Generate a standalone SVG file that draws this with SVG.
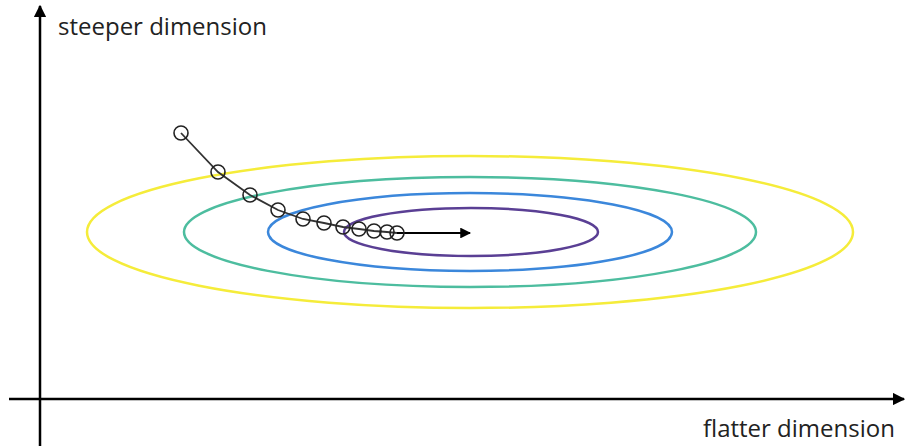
<svg xmlns="http://www.w3.org/2000/svg" width="906" height="448" viewBox="0 0 906 448">
<style>
.axis{stroke:#000;stroke-width:2.5;fill:none}
.lbl{font-family:"Open Sans","Noto Sans","Liberation Sans",sans-serif;font-size:24px;fill:#222}
.pt{fill:none;stroke:#222;stroke-width:1.6}
</style>
<defs>
<marker id="ah" viewBox="0 0 10 10" refX="9" refY="5" markerWidth="5" markerHeight="5" orient="auto" markerUnits="strokeWidth"><path d="M0,0 L10,5 L0,10 z" fill="#000"/></marker>
<marker id="ah2" viewBox="0 0 10 10" refX="9" refY="5" markerWidth="8" markerHeight="6" orient="auto" markerUnits="strokeWidth"><path d="M0,0 L10,5 L0,10 z" fill="#000"/></marker>
</defs>
<g id="contours" fill="none" stroke-width="2.5">
<ellipse cx="470" cy="232" rx="383" ry="76" stroke="#f5ec3a"/>
<ellipse cx="470" cy="232" rx="286" ry="55" stroke="#4dbd9f"/>
<ellipse cx="470" cy="232" rx="202" ry="39" stroke="#3b87db"/>
<ellipse cx="471" cy="232" rx="127" ry="24" stroke="#5a3f94"/>
</g>
<g id="connectors">
<line class="axis" x1="40" y1="446" x2="40" y2="6" marker-end="url(#ah)"/>
<line class="axis" x1="9" y1="399" x2="904" y2="399" marker-end="url(#ah)"/>
<polyline fill="none" stroke="#333" stroke-width="1.8" points="181,133 218,172 250,195 278,210 303,219 324,223 343,227 359,229 374,231 387,232 397,233"/>
<line x1="397" y1="233" x2="470" y2="233" stroke="#000" stroke-width="1.8" marker-end="url(#ah2)"/>
</g>
<g id="path-points">
<circle class="pt" cx="181" cy="133" r="7"/>
<circle class="pt" cx="218" cy="172" r="7"/>
<circle class="pt" cx="250" cy="195" r="7"/>
<circle class="pt" cx="278" cy="210" r="7"/>
<circle class="pt" cx="303" cy="219" r="7"/>
<circle class="pt" cx="324" cy="223" r="7"/>
<circle class="pt" cx="343" cy="227" r="7"/>
<circle class="pt" cx="359" cy="229" r="7"/>
<circle class="pt" cx="374" cy="231" r="7"/>
<circle class="pt" cx="387" cy="232" r="7"/>
<circle class="pt" cx="397" cy="233" r="7"/>
</g>
<g id="label-y"><text class="lbl" x="58" y="35">steeper dimension</text></g>
<g id="label-x"><text class="lbl" x="703" y="437">flatter dimension</text></g>
</svg>
